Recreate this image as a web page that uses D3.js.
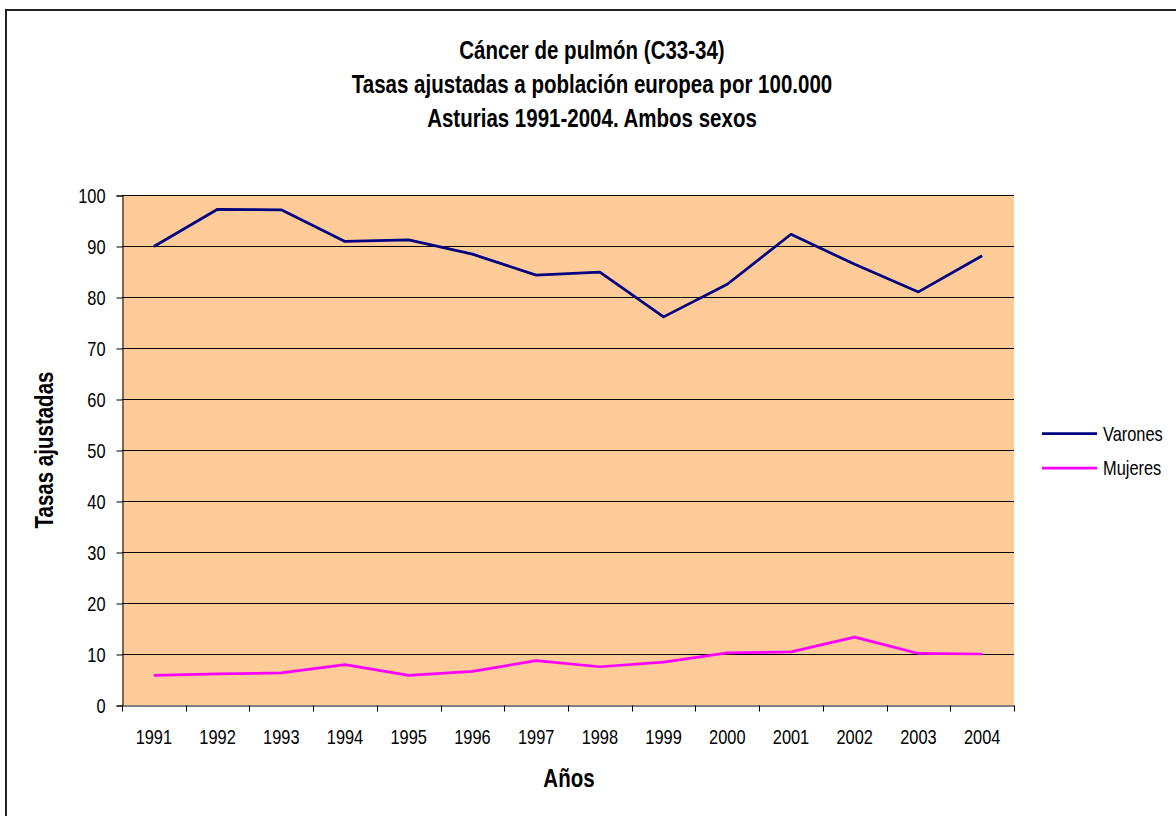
<!DOCTYPE html>
<html>
<head>
<meta charset="utf-8">
<script src="https://cdn.jsdelivr.net/npm/d3@7"></script>
<style>
  body { margin: 0; background: #fff; }
  text { font-family: "Liberation Sans", Arial, sans-serif; fill: #000; }
</style>
</head>
<body>
<svg id="chart"></svg>
<script>
// data
var years = ['1991','1992','1993','1994','1995','1996','1997','1998','1999','2000','2001','2002','2003','2004'];
var varones = [89.9, 97.2, 97.1, 90.9, 91.2, 88.4, 84.3, 84.9, 76.1, 82.5, 92.3, 86.4, 81.0, 88.1];
var mujeres = [5.8, 6.1, 6.3, 7.9, 5.8, 6.6, 8.7, 7.5, 8.4, 10.2, 10.4, 13.3, 10.1, 10.0];
var yTicks = [0, 10, 20, 30, 40, 50, 60, 70, 80, 90, 100];
var titleLines = ['Cáncer de pulmón (C33-34)', 'Tasas ajustadas a población europea por 100.000', 'Asturias 1991-2004. Ambos sexos'];
var series = [
  {name: 'Varones', values: varones, color: '#000080'},
  {name: 'Mujeres', values: mujeres, color: '#FF00FF'}
];

var W = 1176, H = 816;
var NARROW = 0.82; // no Arial Narrow here, squeeze Liberation Sans instead

// squeeze a text horizontally around its own x
function narrow(sel) {
  sel.attr('transform', function(){
    var x0 = +d3.select(this).attr('x') || 0;
    return 'translate(' + x0 + ',0) scale(' + NARROW + ',1) translate(' + (-x0) + ',0)';
  });
}

var svg = d3.select('#chart').attr('width', W).attr('height', H);

// outer frame (runs off right and bottom like the original)
svg.append('rect')
  .attr('x', 6).attr('y', 10)
  .attr('width', W + 20).attr('height', H + 20)
  .attr('fill', 'none').attr('stroke', '#222').attr('stroke-width', 2);

var plotLeft = 122, plotRight = 1014, plotTop = 195, plotBottom = 705;

var x = d3.scaleBand().domain(years).range([plotLeft, plotRight]);
var y = d3.scaleLinear().domain([0, 100]).range([plotBottom, plotTop]);

// plot area
svg.append('rect')
  .attr('x', plotLeft).attr('y', plotTop)
  .attr('width', plotRight - plotLeft).attr('height', plotBottom - plotTop)
  .attr('fill', '#FFCC99');

// gridlines
svg.append('g').selectAll('line')
  .data(yTicks.filter(function(d){ return d > 0; }))
  .enter().append('line')
    .attr('x1', plotLeft).attr('x2', plotRight)
    .attr('y1', function(d){ return Math.round(y(d)) + 0.5; })
    .attr('y2', function(d){ return Math.round(y(d)) + 0.5; })
    .attr('stroke', '#000').attr('stroke-width', 1);

// y axis
var yAxis = svg.append('g')
  .attr('transform', 'translate(' + (plotLeft + 0.5) + ',0.5)')
  .call(d3.axisLeft(y).tickValues(yTicks).tickSize(6).tickPadding(0));
yAxis.select('.domain').attr('stroke', '#000');
yAxis.selectAll('.tick line').attr('stroke', '#000');
yAxis.selectAll('text')
  .attr('x', -17)
  .attr('dy', '0.36em')
  .style('font-size', '20px');
yAxis.selectAll('text').call(narrow);

// x axis
var xAxis = svg.append('g')
  .attr('transform', 'translate(0,' + (plotBottom + 0.5) + ')')
  .call(d3.axisBottom(x).tickSize(0));
xAxis.select('.domain').attr('stroke', '#000');
xAxis.selectAll('text')
  .attr('y', 39).attr('dy', 0)
  .style('font-size', '20px');
xAxis.selectAll('text').call(narrow);
// category boundary ticks
xAxis.selectAll('.bound')
  .data(d3.range(years.length + 1))
  .enter().append('line')
    .attr('class', 'bound')
    .attr('x1', function(i){ return Math.round(plotLeft + i * x.step()) + 0.5; })
    .attr('x2', function(i){ return Math.round(plotLeft + i * x.step()) + 0.5; })
    .attr('y1', 0).attr('y2', 6)
    .attr('stroke', '#000');

// lines
var line = d3.line()
  .x(function(d, i){ return x(years[i]) + x.bandwidth() / 2; })
  .y(function(d){ return y(d); });

svg.selectAll('.serie')
  .data(series)
  .enter().append('path')
    .attr('class', 'serie')
    .attr('d', function(s){ return line(s.values); })
    .attr('fill', 'none')
    .attr('stroke', function(s){ return s.color; })
    .attr('stroke-width', 2.75)
    .attr('stroke-linejoin', 'round');

// title
svg.append('g').selectAll('text')
  .data(titleLines)
  .enter().append('text')
    .attr('x', 592)
    .attr('y', function(d, i){ return 59 + i * 34; })
    .attr('text-anchor', 'middle')
    .style('font-size', '25px')
    .style('font-weight', 'bold')
    .text(function(d){ return d; })
    .call(narrow);

// axis titles
svg.append('text')
  .attr('x', 569).attr('y', 787)
  .attr('text-anchor', 'middle')
  .style('font-size', '25px').style('font-weight', 'bold')
  .text('Años')
  .call(narrow);

svg.append('text')
  .attr('transform', 'translate(53,450) rotate(-90) scale(' + NARROW + ',1)')
  .attr('text-anchor', 'middle')
  .style('font-size', '25px').style('font-weight', 'bold')
  .text('Tasas ajustadas');

// legend
var legend = svg.append('g').selectAll('g')
  .data(series)
  .enter().append('g')
    .attr('transform', function(d, i){ return 'translate(1042,' + (433.5 + i * 34.5) + ')'; });
legend.append('line')
  .attr('x1', 0).attr('x2', 55)
  .attr('stroke', function(d){ return d.color; })
  .attr('stroke-width', 2.75);
legend.append('text')
  .attr('x', 61).attr('dy', '0.36em')
  .style('font-size', '20px')
  .text(function(d){ return d.name; })
  .call(narrow);
</script>
</body>
</html>
